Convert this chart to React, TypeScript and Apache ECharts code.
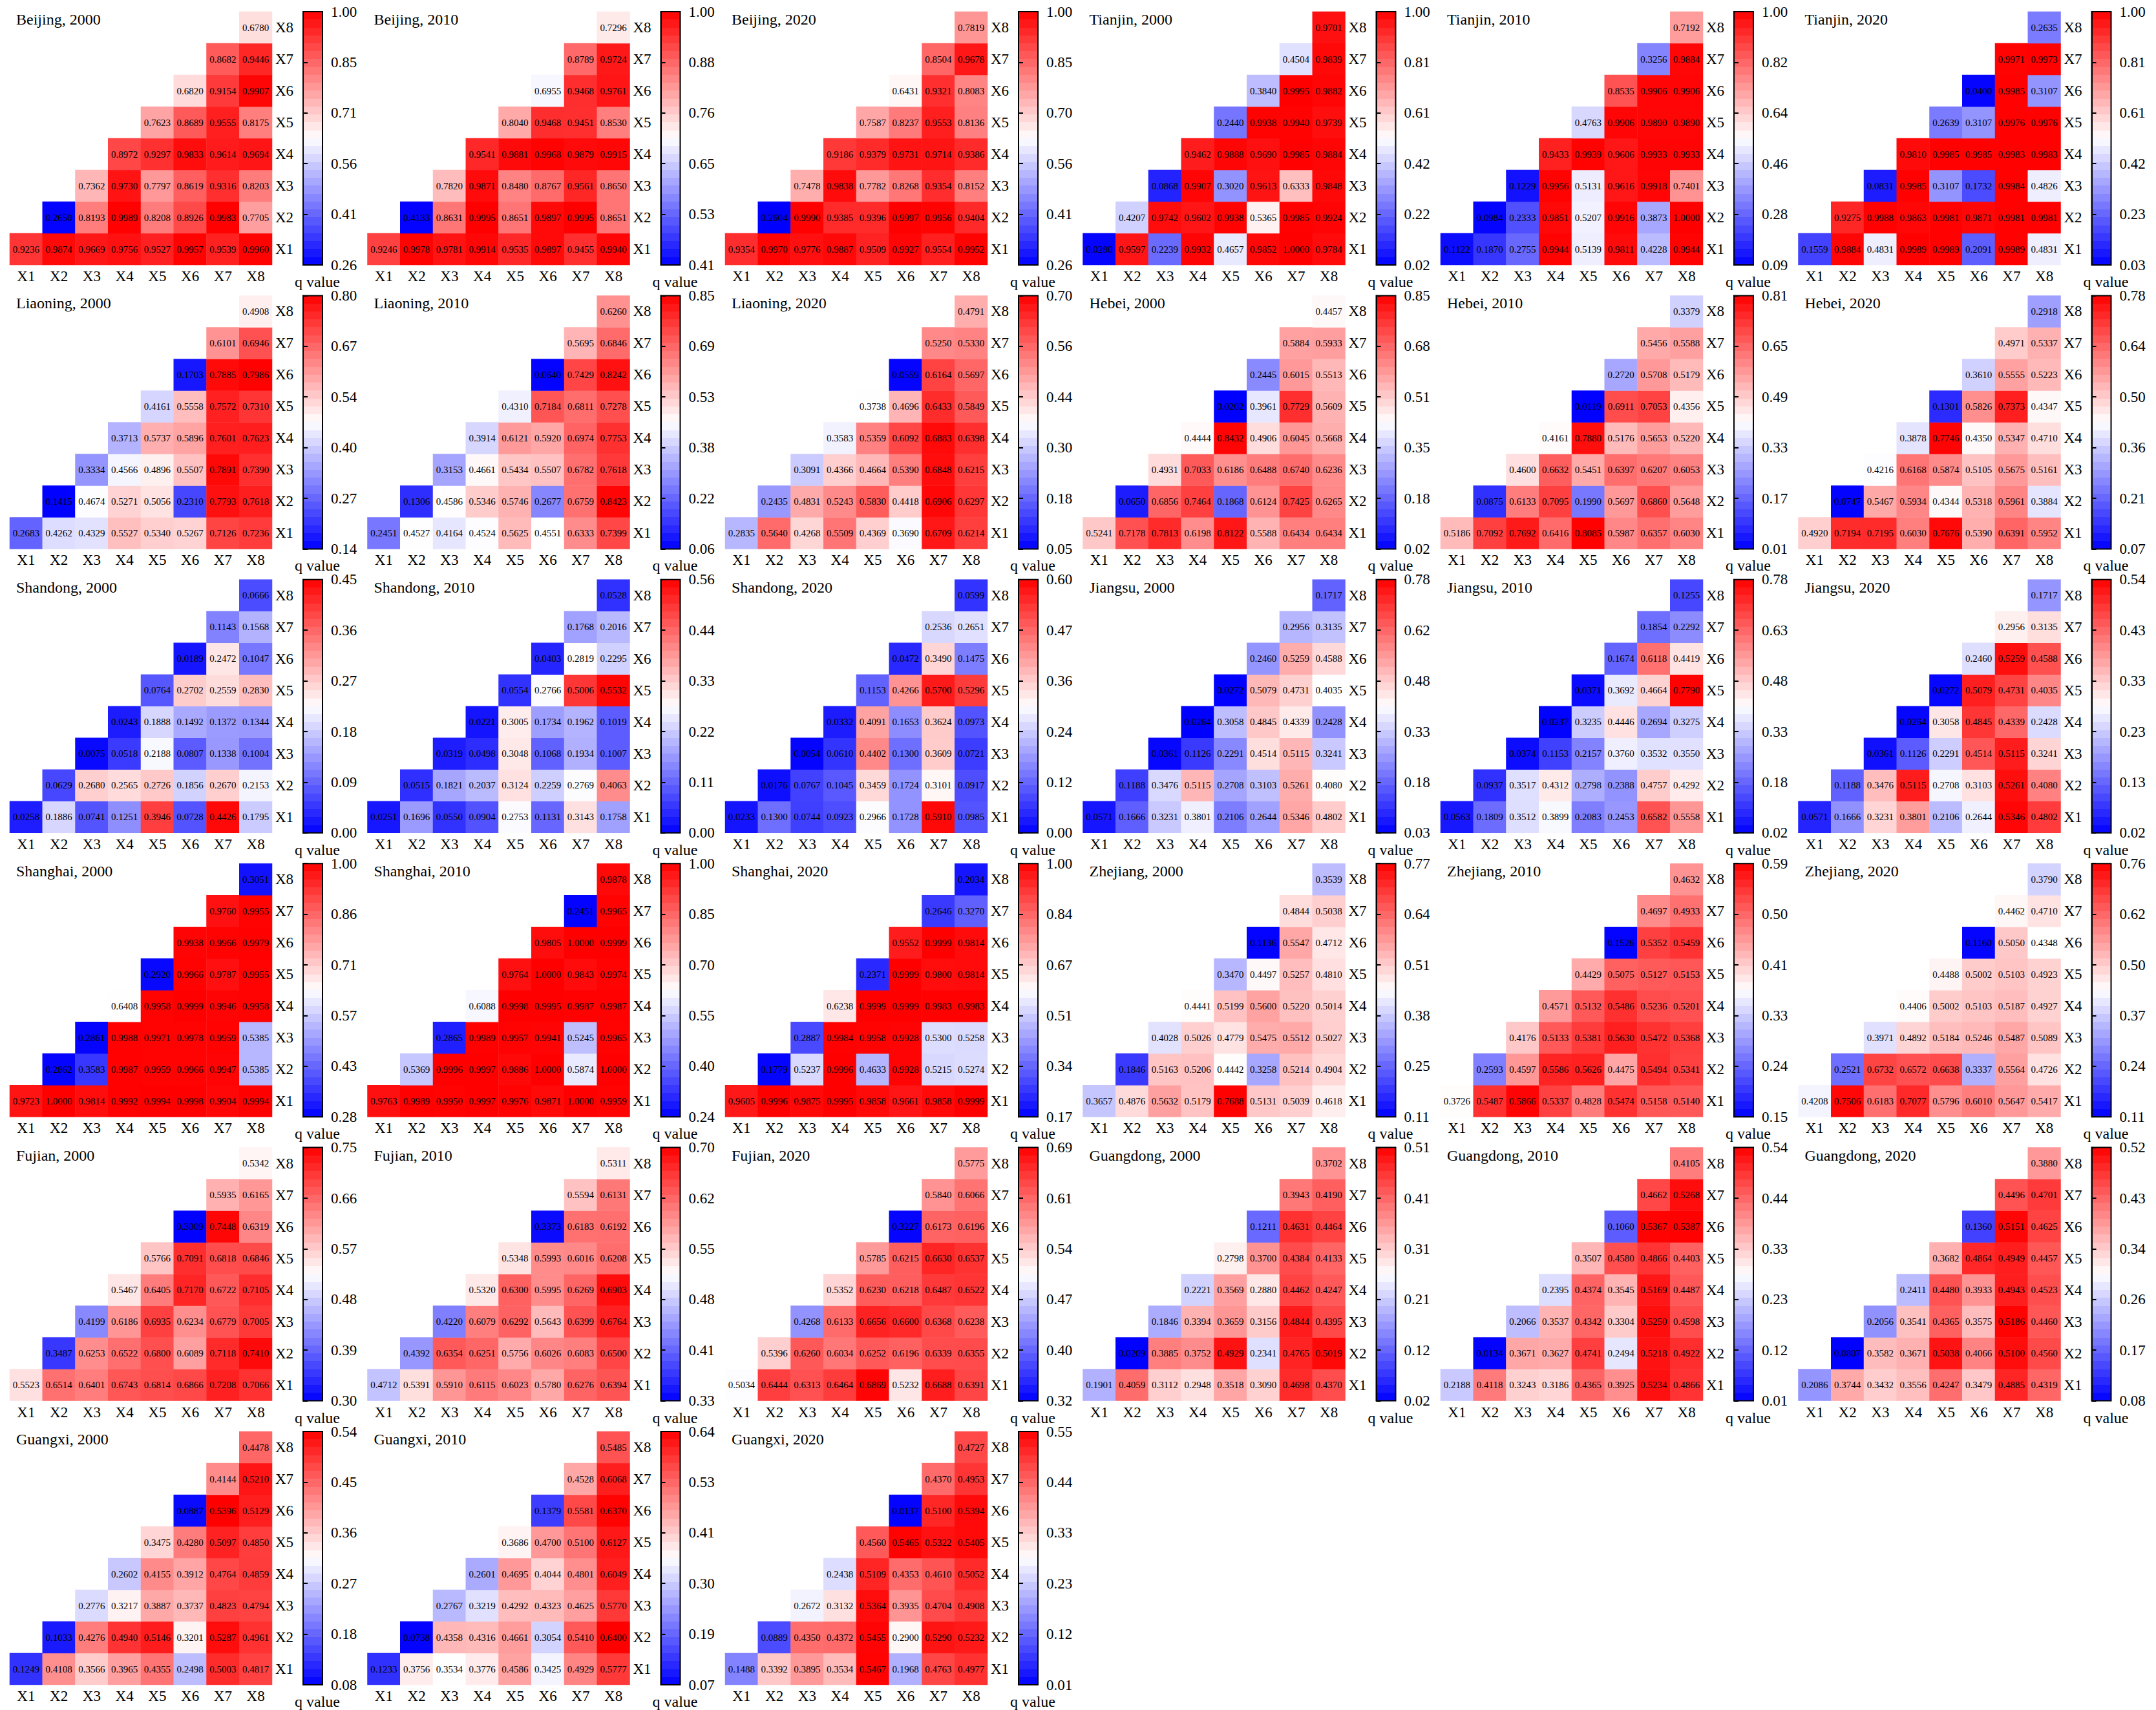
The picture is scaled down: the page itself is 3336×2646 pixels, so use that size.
import React, { useEffect, useRef } from 'react';
import * as echarts from 'echarts';

const varNames = ['X1', 'X2', 'X3', 'X4', 'X5', 'X6', 'X7', 'X8'];
const provinces = ['Beijing', 'Tianjin', 'Liaoning', 'Hebei', 'Shandong', 'Jiangsu', 'Shanghai', 'Zhejiang', 'Fujian', 'Guangdong', 'Guangxi'];
const years = ['2000', '2010', '2020'];

// Each panel: rows X1..X8 (bottom to top); row Xj holds columns Xj..X8
const beijing2000 = [
  [0.9236, 0.9874, 0.9669, 0.9756, 0.9527, 0.9957, 0.9539, 0.9960],
  [0.2650, 0.8193, 0.9989, 0.8208, 0.8926, 0.9983, 0.7705],
  [0.7362, 0.9730, 0.7797, 0.8619, 0.9316, 0.8203],
  [0.8972, 0.9297, 0.9833, 0.9614, 0.9694],
  [0.7623, 0.8689, 0.9555, 0.8175],
  [0.6820, 0.9154, 0.9907],
  [0.8682, 0.9446],
  [0.6780],
];
const beijing2010 = [
  [0.9246, 0.9978, 0.9781, 0.9914, 0.9535, 0.9897, 0.9455, 0.9940],
  [0.4133, 0.8631, 0.9995, 0.8651, 0.9897, 0.9995, 0.8651],
  [0.7820, 0.9871, 0.8480, 0.8767, 0.9561, 0.8650],
  [0.9541, 0.9881, 0.9968, 0.9879, 0.9915],
  [0.8040, 0.9468, 0.9451, 0.8530],
  [0.6955, 0.9468, 0.9761],
  [0.8789, 0.9724],
  [0.7296],
];
const beijing2020 = [
  [0.9354, 0.9970, 0.9776, 0.9887, 0.9509, 0.9927, 0.9554, 0.9952],
  [0.2604, 0.9990, 0.9385, 0.9396, 0.9997, 0.9956, 0.9404],
  [0.7478, 0.9838, 0.7782, 0.8268, 0.9354, 0.8152],
  [0.9186, 0.9379, 0.9731, 0.9714, 0.9386],
  [0.7587, 0.8237, 0.9553, 0.8136],
  [0.6431, 0.9321, 0.8083],
  [0.8504, 0.9678],
  [0.7819],
];
const tianjin2000 = [
  [0.0280, 0.9597, 0.2239, 0.9932, 0.4657, 0.9852, 1.0000, 0.9784],
  [0.4207, 0.9742, 0.9602, 0.9938, 0.5365, 0.9985, 0.9924],
  [0.0868, 0.9907, 0.3020, 0.9613, 0.6333, 0.9848],
  [0.9462, 0.9888, 0.9690, 0.9985, 0.9884],
  [0.2440, 0.9938, 0.9940, 0.9739],
  [0.3840, 0.9995, 0.9882],
  [0.4504, 0.9839],
  [0.9701],
];
const tianjin2010 = [
  [0.1122, 0.1870, 0.2755, 0.9944, 0.5139, 0.9811, 0.4228, 0.9944],
  [0.0984, 0.2333, 0.9851, 0.5207, 0.9916, 0.3873, 1.0000],
  [0.1229, 0.9956, 0.5131, 0.9616, 0.9918, 0.7401],
  [0.9433, 0.9939, 0.9606, 0.9933, 0.9933],
  [0.4763, 0.9906, 0.9890, 0.9890],
  [0.8535, 0.9906, 0.9906],
  [0.3256, 0.9884],
  [0.7192],
];
const tianjin2020 = [
  [0.1559, 0.9884, 0.4831, 0.9989, 0.9989, 0.2091, 0.9989, 0.4831],
  [0.9275, 0.9988, 0.9863, 0.9981, 0.9871, 0.9981, 0.9981],
  [0.0831, 0.9985, 0.3107, 0.1732, 0.9984, 0.4826],
  [0.9810, 0.9985, 0.9985, 0.9983, 0.9983],
  [0.2639, 0.3107, 0.9976, 0.9976],
  [0.0400, 0.9985, 0.3107],
  [0.9971, 0.9973],
  [0.2635],
];
const liaoning2000 = [
  [0.2683, 0.4262, 0.4329, 0.5527, 0.5340, 0.5267, 0.7126, 0.7236],
  [0.1415, 0.4674, 0.5271, 0.5056, 0.2310, 0.7793, 0.7618],
  [0.3334, 0.4566, 0.4896, 0.5507, 0.7891, 0.7390],
  [0.3713, 0.5737, 0.5896, 0.7601, 0.7623],
  [0.4161, 0.5558, 0.7572, 0.7310],
  [0.1703, 0.7885, 0.7986],
  [0.6101, 0.6946],
  [0.4908],
];
const liaoning2010 = [
  [0.2451, 0.4527, 0.4164, 0.4524, 0.5625, 0.4551, 0.6333, 0.7399],
  [0.1306, 0.4586, 0.5346, 0.5746, 0.2677, 0.6759, 0.8423],
  [0.3153, 0.4661, 0.5434, 0.5507, 0.6782, 0.7618],
  [0.3914, 0.6121, 0.5920, 0.6974, 0.7753],
  [0.4310, 0.7184, 0.6811, 0.7278],
  [0.0640, 0.7429, 0.8242],
  [0.5695, 0.6846],
  [0.6260],
];
const liaoning2020 = [
  [0.2835, 0.5640, 0.4268, 0.5509, 0.4369, 0.3690, 0.6709, 0.6214],
  [0.2435, 0.4831, 0.5243, 0.5830, 0.4418, 0.6906, 0.6297],
  [0.3091, 0.4366, 0.4664, 0.5390, 0.6848, 0.6215],
  [0.3583, 0.5359, 0.6092, 0.6883, 0.6398],
  [0.3738, 0.4696, 0.6433, 0.5849],
  [0.0559, 0.6164, 0.5697],
  [0.5250, 0.5330],
  [0.4791],
];
const hebei2000 = [
  [0.5241, 0.7178, 0.7813, 0.6198, 0.8122, 0.5588, 0.6434, 0.6434],
  [0.0650, 0.6856, 0.7464, 0.1868, 0.6124, 0.7425, 0.6265],
  [0.4931, 0.7033, 0.6186, 0.6488, 0.6740, 0.6236],
  [0.4444, 0.8432, 0.4906, 0.6045, 0.5668],
  [0.0202, 0.3961, 0.7729, 0.5609],
  [0.2445, 0.6015, 0.5513],
  [0.5884, 0.5933],
  [0.4457],
];
const hebei2010 = [
  [0.5186, 0.7092, 0.7692, 0.6416, 0.8085, 0.5987, 0.6357, 0.6030],
  [0.0875, 0.6133, 0.7095, 0.1990, 0.5697, 0.6860, 0.5648],
  [0.4600, 0.6632, 0.5451, 0.6397, 0.6207, 0.6053],
  [0.4161, 0.7880, 0.5176, 0.5653, 0.5220],
  [0.0119, 0.6911, 0.7053, 0.4356],
  [0.2720, 0.5708, 0.5179],
  [0.5456, 0.5588],
  [0.3379],
];
const hebei2020 = [
  [0.4920, 0.7194, 0.7195, 0.6030, 0.7676, 0.5390, 0.6391, 0.5952],
  [0.0747, 0.5467, 0.5934, 0.4344, 0.5318, 0.5961, 0.3884],
  [0.4216, 0.6168, 0.5874, 0.5105, 0.5675, 0.5161],
  [0.3878, 0.7746, 0.4350, 0.5347, 0.4710],
  [0.1301, 0.5826, 0.7373, 0.4347],
  [0.3610, 0.5555, 0.5223],
  [0.4971, 0.5337],
  [0.2918],
];
const shandong2000 = [
  [0.0258, 0.1886, 0.0741, 0.1251, 0.3946, 0.0728, 0.4426, 0.1795],
  [0.0629, 0.2680, 0.2565, 0.2726, 0.1856, 0.2670, 0.2153],
  [0.0075, 0.0518, 0.2188, 0.0807, 0.1338, 0.1004],
  [0.0243, 0.1888, 0.1492, 0.1372, 0.1344],
  [0.0764, 0.2702, 0.2559, 0.2830],
  [0.0189, 0.2472, 0.1047],
  [0.1143, 0.1568],
  [0.0666],
];
const shandong2010 = [
  [0.0251, 0.1696, 0.0550, 0.0904, 0.2753, 0.1131, 0.3143, 0.1758],
  [0.0515, 0.1821, 0.2037, 0.3124, 0.2259, 0.2769, 0.4063],
  [0.0319, 0.0498, 0.3048, 0.1068, 0.1934, 0.1007],
  [0.0221, 0.3005, 0.1734, 0.1962, 0.1019],
  [0.0554, 0.2766, 0.5006, 0.5532],
  [0.0403, 0.2819, 0.2295],
  [0.1768, 0.2016],
  [0.0528],
];
const shandong2020 = [
  [0.0233, 0.1300, 0.0744, 0.0923, 0.2966, 0.1728, 0.5910, 0.0985],
  [0.0176, 0.0767, 0.1045, 0.3459, 0.1724, 0.3101, 0.0917],
  [0.0054, 0.0610, 0.4402, 0.1300, 0.3609, 0.0721],
  [0.0332, 0.4091, 0.1653, 0.3624, 0.0973],
  [0.1153, 0.4266, 0.5700, 0.5296],
  [0.0472, 0.3490, 0.1475],
  [0.2536, 0.2651],
  [0.0599],
];
const jiangsu2000 = [
  [0.0571, 0.1666, 0.3231, 0.3801, 0.2106, 0.2644, 0.5346, 0.4802],
  [0.1188, 0.3476, 0.5115, 0.2708, 0.3103, 0.5261, 0.4080],
  [0.0361, 0.1126, 0.2291, 0.4514, 0.5115, 0.3241],
  [0.0264, 0.3058, 0.4845, 0.4339, 0.2428],
  [0.0272, 0.5079, 0.4731, 0.4035],
  [0.2460, 0.5259, 0.4588],
  [0.2956, 0.3135],
  [0.1717],
];
const jiangsu2010 = [
  [0.0563, 0.1809, 0.3512, 0.3899, 0.2083, 0.2453, 0.6582, 0.5558],
  [0.0937, 0.3517, 0.4312, 0.2798, 0.2388, 0.4757, 0.4292],
  [0.0374, 0.1153, 0.2157, 0.3760, 0.3532, 0.3550],
  [0.0237, 0.3235, 0.4446, 0.2694, 0.3275],
  [0.0371, 0.3692, 0.4664, 0.7790],
  [0.1674, 0.6118, 0.4419],
  [0.1854, 0.2292],
  [0.1255],
];
const jiangsu2020 = [
  [0.0571, 0.1666, 0.3231, 0.3801, 0.2106, 0.2644, 0.5346, 0.4802],
  [0.1188, 0.3476, 0.5115, 0.2708, 0.3103, 0.5261, 0.4080],
  [0.0361, 0.1126, 0.2291, 0.4514, 0.5115, 0.3241],
  [0.0264, 0.3058, 0.4845, 0.4339, 0.2428],
  [0.0272, 0.5079, 0.4731, 0.4035],
  [0.2460, 0.5259, 0.4588],
  [0.2956, 0.3135],
  [0.1717],
];
const shanghai2000 = [
  [0.9723, 1.0000, 0.9814, 0.9992, 0.9994, 0.9998, 0.9904, 0.9994],
  [0.2862, 0.3583, 0.9987, 0.9959, 0.9966, 0.9947, 0.5385],
  [0.2861, 0.9988, 0.9971, 0.9978, 0.9959, 0.5385],
  [0.6408, 0.9958, 0.9999, 0.9946, 0.9958],
  [0.2920, 0.9966, 0.9787, 0.9955],
  [0.9938, 0.9966, 0.9979],
  [0.9760, 0.9955],
  [0.3051],
];
const shanghai2010 = [
  [0.9763, 0.9989, 0.9950, 0.9997, 0.9976, 0.9871, 1.0000, 0.9959],
  [0.5369, 0.9996, 0.9997, 0.9886, 1.0000, 0.5874, 1.0000],
  [0.2865, 0.9989, 0.9957, 0.9941, 0.5245, 0.9965],
  [0.6088, 0.9998, 0.9995, 0.9987, 0.9987],
  [0.9764, 1.0000, 0.9843, 0.9974],
  [0.9805, 1.0000, 0.9999],
  [0.2451, 0.9965],
  [0.9878],
];
const shanghai2020 = [
  [0.9605, 0.9996, 0.9875, 0.9995, 0.9858, 0.9661, 0.9858, 0.9999],
  [0.1779, 0.5237, 0.9996, 0.4633, 0.9928, 0.5215, 0.5274],
  [0.2887, 0.9984, 0.9958, 0.9928, 0.5300, 0.5258],
  [0.6238, 0.9999, 0.9999, 0.9983, 0.9983],
  [0.2371, 0.9999, 0.9800, 0.9814],
  [0.9552, 0.9999, 0.9814],
  [0.2646, 0.3270],
  [0.2034],
];
const zhejiang2000 = [
  [0.3657, 0.4876, 0.5632, 0.5179, 0.7688, 0.5131, 0.5039, 0.4618],
  [0.1846, 0.5163, 0.5206, 0.4442, 0.3258, 0.5214, 0.4904],
  [0.4028, 0.5026, 0.4779, 0.5475, 0.5512, 0.5027],
  [0.4441, 0.5199, 0.5600, 0.5220, 0.5014],
  [0.3470, 0.4497, 0.5257, 0.4810],
  [0.1136, 0.5547, 0.4712],
  [0.4844, 0.5038],
  [0.3539],
];
const zhejiang2010 = [
  [0.3726, 0.5487, 0.5866, 0.5337, 0.4828, 0.5474, 0.5158, 0.5140],
  [0.2593, 0.4597, 0.5586, 0.5626, 0.4475, 0.5494, 0.5341],
  [0.4176, 0.5133, 0.5381, 0.5630, 0.5472, 0.5368],
  [0.4571, 0.5132, 0.5486, 0.5236, 0.5201],
  [0.4429, 0.5075, 0.5127, 0.5153],
  [0.1526, 0.5352, 0.5459],
  [0.4697, 0.4933],
  [0.4632],
];
const zhejiang2020 = [
  [0.4208, 0.7506, 0.6183, 0.7077, 0.5796, 0.6010, 0.5647, 0.5417],
  [0.2521, 0.6732, 0.6572, 0.6638, 0.3337, 0.5564, 0.4726],
  [0.3971, 0.4892, 0.5184, 0.5246, 0.5487, 0.5089],
  [0.4406, 0.5002, 0.5103, 0.5187, 0.4927],
  [0.4488, 0.5002, 0.5103, 0.4923],
  [0.1160, 0.5050, 0.4348],
  [0.4462, 0.4710],
  [0.3790],
];
const fujian2000 = [
  [0.5523, 0.6514, 0.6401, 0.6743, 0.6814, 0.6866, 0.7208, 0.7066],
  [0.3487, 0.6253, 0.6522, 0.6800, 0.6089, 0.7118, 0.7410],
  [0.4199, 0.6186, 0.6935, 0.6234, 0.6779, 0.7005],
  [0.5467, 0.6405, 0.7170, 0.6722, 0.7105],
  [0.5766, 0.7091, 0.6818, 0.6846],
  [0.3009, 0.7448, 0.6319],
  [0.5935, 0.6165],
  [0.5342],
];
const fujian2010 = [
  [0.4712, 0.5391, 0.5910, 0.6115, 0.6023, 0.5780, 0.6276, 0.6394],
  [0.4392, 0.6354, 0.6251, 0.5756, 0.6026, 0.6083, 0.6500],
  [0.4220, 0.6079, 0.6292, 0.5643, 0.6399, 0.6764],
  [0.5320, 0.6300, 0.5995, 0.6269, 0.6903],
  [0.5348, 0.5993, 0.6016, 0.6208],
  [0.3373, 0.6183, 0.6192],
  [0.5594, 0.6131],
  [0.5311],
];
const fujian2020 = [
  [0.5034, 0.6444, 0.6313, 0.6464, 0.6869, 0.5232, 0.6688, 0.6391],
  [0.5396, 0.6260, 0.6034, 0.6252, 0.6196, 0.6339, 0.6355],
  [0.4268, 0.6133, 0.6656, 0.6600, 0.6368, 0.6238],
  [0.5352, 0.6230, 0.6218, 0.6487, 0.6522],
  [0.5785, 0.6215, 0.6630, 0.6537],
  [0.3227, 0.6173, 0.6196],
  [0.5840, 0.6066],
  [0.5775],
];
const guangdong2000 = [
  [0.1901, 0.4059, 0.3112, 0.2948, 0.3518, 0.3090, 0.4698, 0.4370],
  [0.0209, 0.3885, 0.3752, 0.4929, 0.2341, 0.4765, 0.5019],
  [0.1846, 0.3394, 0.3659, 0.3156, 0.4844, 0.4395],
  [0.2221, 0.3569, 0.2880, 0.4462, 0.4247],
  [0.2798, 0.3700, 0.4384, 0.4133],
  [0.1211, 0.4631, 0.4464],
  [0.3943, 0.4190],
  [0.3702],
];
const guangdong2010 = [
  [0.2188, 0.4118, 0.3243, 0.3186, 0.4365, 0.3925, 0.5234, 0.4866],
  [0.0134, 0.3671, 0.3627, 0.4741, 0.2494, 0.5218, 0.4922],
  [0.2066, 0.3537, 0.4342, 0.3304, 0.5250, 0.4598],
  [0.2395, 0.4374, 0.3545, 0.5169, 0.4487],
  [0.3507, 0.4580, 0.4866, 0.4403],
  [0.1060, 0.5367, 0.5387],
  [0.4662, 0.5268],
  [0.4105],
];
const guangdong2020 = [
  [0.2086, 0.3744, 0.3432, 0.3556, 0.4247, 0.3479, 0.4885, 0.4319],
  [0.0807, 0.3582, 0.3671, 0.5038, 0.4066, 0.5100, 0.4560],
  [0.2056, 0.3541, 0.4365, 0.3575, 0.5186, 0.4460],
  [0.2411, 0.4480, 0.3933, 0.4943, 0.4523],
  [0.3682, 0.4864, 0.4949, 0.4457],
  [0.1360, 0.5151, 0.4625],
  [0.4496, 0.4701],
  [0.3880],
];
const guangxi2000 = [
  [0.1249, 0.4108, 0.3566, 0.3965, 0.4355, 0.2498, 0.5003, 0.4817],
  [0.1033, 0.4276, 0.4940, 0.5146, 0.3201, 0.5287, 0.4961],
  [0.2776, 0.3217, 0.3887, 0.3737, 0.4823, 0.4794],
  [0.2602, 0.4155, 0.3912, 0.4764, 0.4859],
  [0.3475, 0.4280, 0.5097, 0.4850],
  [0.0887, 0.5396, 0.5129],
  [0.4144, 0.5210],
  [0.4478],
];
const guangxi2010 = [
  [0.1233, 0.3756, 0.3534, 0.3776, 0.4586, 0.3425, 0.4929, 0.5777],
  [0.0738, 0.4358, 0.4316, 0.4661, 0.3054, 0.5410, 0.6400],
  [0.2767, 0.3219, 0.4292, 0.4323, 0.4625, 0.5770],
  [0.2601, 0.4695, 0.4044, 0.4801, 0.6049],
  [0.3686, 0.4700, 0.5100, 0.6127],
  [0.1379, 0.5581, 0.6370],
  [0.4528, 0.6068],
  [0.5485],
];
const guangxi2020 = [
  [0.1488, 0.3392, 0.3895, 0.3534, 0.5467, 0.1968, 0.4763, 0.4977],
  [0.0889, 0.4350, 0.4372, 0.5455, 0.2900, 0.5290, 0.5232],
  [0.2672, 0.3132, 0.5364, 0.3935, 0.4704, 0.4908],
  [0.2438, 0.5109, 0.4353, 0.4610, 0.5052],
  [0.4560, 0.5465, 0.5322, 0.5405],
  [0.0137, 0.5100, 0.5394],
  [0.4370, 0.4953],
  [0.4727],
];

const panels = [
  beijing2000, beijing2010, beijing2020, tianjin2000, tianjin2010, tianjin2020,
  liaoning2000, liaoning2010, liaoning2020, hebei2000, hebei2010, hebei2020,
  shandong2000, shandong2010, shandong2020, jiangsu2000, jiangsu2010, jiangsu2020,
  shanghai2000, shanghai2010, shanghai2020, zhejiang2000, zhejiang2010, zhejiang2020,
  fujian2000, fujian2010, fujian2020, guangdong2000, guangdong2010, guangdong2020,
  guangxi2000, guangxi2010, guangxi2020,
];

// Colorbar tick labels (bottom -> top) as printed in each panel
const colorbarTicks = [
  ['0.26', '0.41', '0.56', '0.71', '0.85', '1.00'],
  ['0.41', '0.53', '0.65', '0.76', '0.88', '1.00'],
  ['0.26', '0.41', '0.56', '0.70', '0.85', '1.00'],
  ['0.02', '0.22', '0.42', '0.61', '0.81', '1.00'],
  ['0.09', '0.28', '0.46', '0.64', '0.82', '1.00'],
  ['0.03', '0.23', '0.42', '0.61', '0.81', '1.00'],
  ['0.14', '0.27', '0.40', '0.54', '0.67', '0.80'],
  ['0.06', '0.22', '0.38', '0.53', '0.69', '0.85'],
  ['0.05', '0.18', '0.30', '0.44', '0.56', '0.70'],
  ['0.02', '0.18', '0.35', '0.51', '0.68', '0.85'],
  ['0.01', '0.17', '0.33', '0.49', '0.65', '0.81'],
  ['0.07', '0.21', '0.36', '0.50', '0.64', '0.78'],
  ['0.00', '0.09', '0.18', '0.27', '0.36', '0.45'],
  ['0.00', '0.11', '0.22', '0.33', '0.44', '0.56'],
  ['0.00', '0.12', '0.24', '0.36', '0.47', '0.60'],
  ['0.03', '0.18', '0.33', '0.48', '0.62', '0.78'],
  ['0.02', '0.18', '0.33', '0.48', '0.63', '0.78'],
  ['0.02', '0.13', '0.23', '0.33', '0.43', '0.54'],
  ['0.28', '0.43', '0.57', '0.71', '0.86', '1.00'],
  ['0.24', '0.40', '0.55', '0.70', '0.85', '1.00'],
  ['0.17', '0.34', '0.51', '0.67', '0.84', '1.00'],
  ['0.11', '0.25', '0.38', '0.51', '0.64', '0.77'],
  ['0.15', '0.24', '0.33', '0.41', '0.50', '0.59'],
  ['0.11', '0.24', '0.37', '0.50', '0.62', '0.76'],
  ['0.30', '0.39', '0.48', '0.57', '0.66', '0.75'],
  ['0.33', '0.41', '0.48', '0.55', '0.62', '0.70'],
  ['0.32', '0.40', '0.47', '0.54', '0.61', '0.69'],
  ['0.02', '0.12', '0.21', '0.31', '0.41', '0.51'],
  ['0.01', '0.12', '0.23', '0.33', '0.44', '0.54'],
  ['0.08', '0.17', '0.26', '0.34', '0.43', '0.52'],
  ['0.08', '0.18', '0.27', '0.36', '0.45', '0.54'],
  ['0.07', '0.19', '0.30', '0.41', '0.53', '0.64'],
  ['0.01', '0.12', '0.23', '0.33', '0.44', '0.55'],
];

const FONT = "'Liberation Serif', 'Times New Roman', serif";
const COLORS = ['#0000ff', '#ffffff', '#ff0000'];
const STEPS = 32;

function bwr(t: number): string {
  let r: number, g: number, b: number;
  if (t < 0.5) {
    r = g = Math.round(255 * t * 2);
    b = 255;
  } else {
    r = 255;
    g = b = Math.round(255 * (1 - t) * 2);
  }
  return `rgb(${r},${g},${b})`;
}

function colorbarFill() {
  const stops: { offset: number; color: string }[] = [];
  for (let i = 0; i < STEPS; i++) {
    const c = bwr(1 - (i + 0.5) / STEPS);
    stops.push({ offset: i / STEPS, color: c });
    stops.push({ offset: (i + 1) / STEPS, color: c });
  }
  return { type: 'linear', x: 0, y: 0, x2: 0, y2: 1, colorStops: stops };
}

function buildOption() {
  const grid: any[] = [];
  const xAxis: any[] = [];
  const yAxis: any[] = [];
  const series: any[] = [];
  const visualMap: any[] = [];
  const graphic: any[] = [];
  const HW = 406;
  const HH = 392;

  panels.forEach((rows, k) => {
    const col = k % 6;
    const row = Math.floor(k / 6);
    const px = 15 + col * 553.5;
    const py = 18 + row * 439.4;
    const title = `${provinces[Math.floor(k / 3)]}, ${years[k % 3]}`;
    const ticks = colorbarTicks[k];

    const cells: number[][] = [];
    let dMin = Infinity;
    let dMax = -Infinity;
    rows.forEach((vals, r) => {
      vals.forEach((v, i) => {
        cells.push([r + i, r, v]);
        dMin = Math.min(dMin, v);
        dMax = Math.max(dMax, v);
      });
    });

    const gi = grid.length;
    grid.push({ left: px, top: py, width: HW, height: HH });
    grid.push({
      left: px + 454, top: py, width: 30, height: HH, show: true,
      backgroundColor: colorbarFill(), borderColor: '#000', borderWidth: 2,
    });

    xAxis.push({
      type: 'category', gridIndex: gi, data: varNames,
      axisLine: { show: false }, axisTick: { show: false },
      splitLine: { show: false },
      axisLabel: { fontSize: 23, color: '#000', fontFamily: FONT, margin: 6 },
    });
    yAxis.push({
      type: 'category', gridIndex: gi, data: varNames, position: 'right',
      axisLine: { show: false }, axisTick: { show: false },
      splitLine: { show: false },
      axisLabel: { fontSize: 23, color: '#000', fontFamily: FONT, margin: 5 },
    });
    xAxis.push({ type: 'value', gridIndex: gi + 1, min: 0, max: 1, show: false });
    yAxis.push({
      type: 'value', gridIndex: gi + 1, position: 'right', min: 0, max: 5, interval: 1,
      axisLine: { show: true, lineStyle: { color: '#000', width: 2 } },
      axisTick: { show: true, inside: false, length: 7, lineStyle: { color: '#000', width: 2 } },
      splitLine: { show: false },
      axisLabel: {
        fontSize: 23, color: '#000', fontFamily: FONT, margin: 13,
        formatter: (v: number) => ticks[Math.round(v)] ?? '',
      },
    });

    visualMap.push({
      type: 'continuous', show: false, seriesIndex: series.length, dimension: 2,
      min: Math.min(parseFloat(ticks[0]), dMin),
      max: Math.max(parseFloat(ticks[5]), dMax),
      inRange: { color: COLORS },
    });

    series.push({
      type: 'heatmap', xAxisIndex: gi, yAxisIndex: gi, data: cells,
      itemStyle: { borderWidth: 0 },
      emphasis: { disabled: true },
      label: {
        show: true, fontSize: 15, color: '#000', fontFamily: FONT,
        formatter: (p: any) => Number(p.value[2]).toFixed(4),
      },
    });

    graphic.push({
      type: 'text', x: px + 10, y: py + 12,
      style: { text: title, fontSize: 24, fontFamily: FONT, fill: '#000', align: 'left', verticalAlign: 'middle' },
    });
    graphic.push({
      type: 'text', x: px + 476, y: py + 418,
      style: { text: 'q value', fontSize: 24, fontFamily: FONT, fill: '#000', align: 'center', verticalAlign: 'middle' },
    });
  });

  return {
    animation: false,
    backgroundColor: '#ffffff',
    grid, xAxis, yAxis, series, visualMap, graphic,
  };
}

export default function App() {
  const ref = useRef<HTMLDivElement>(null);
  useEffect(() => {
    if (!ref.current) return;
    const chart = echarts.init(ref.current, undefined, { renderer: 'svg' });
    chart.setOption(buildOption() as any);
    return () => chart.dispose();
  }, []);
  return (
    <div
      ref={ref}
      style={{ position: 'absolute', left: 0, top: 0, width: 3336, height: 2646, background: '#fff' }}
    />
  );
}
